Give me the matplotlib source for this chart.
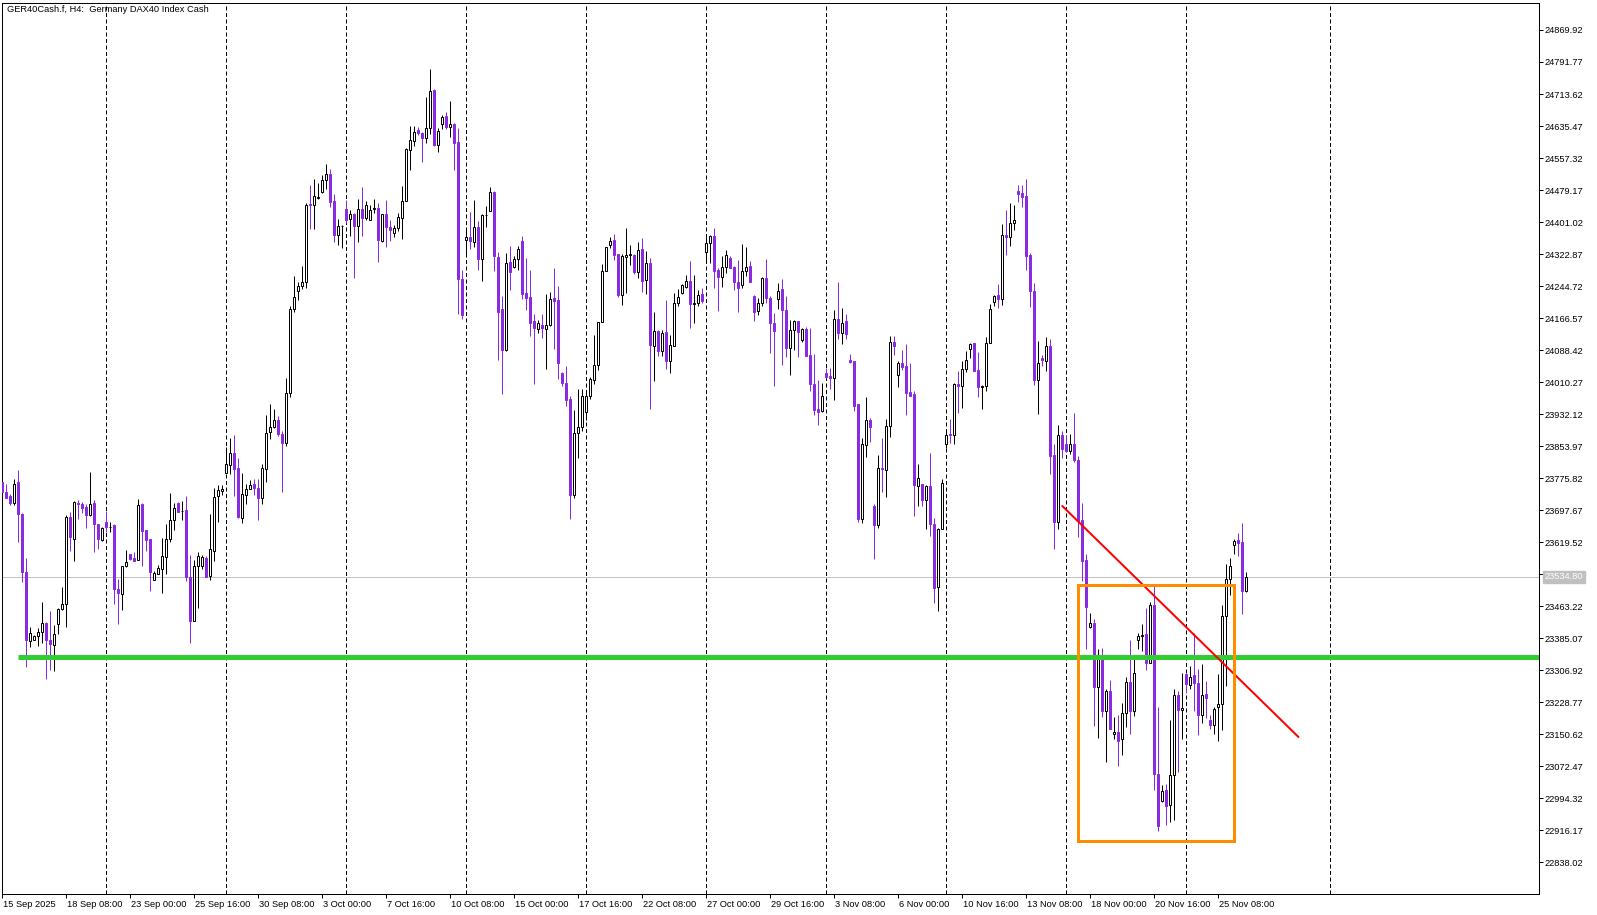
import matplotlib
matplotlib.use("Agg")
import matplotlib.pyplot as plt
from matplotlib.patches import Rectangle
import matplotlib.transforms as mtransforms

# ---------------- data (H4 bars, GER40Cash.f) ----------------
opens = [
    23766.9, 23742.5, 23731.1, 23714.8, 23765.3, 23688.8, 23546.3, 23378.6, 23381.1, 23390.9,
    23400.6, 23421.0, 23381.9, 23368.9, 23420.2, 23456.8, 23469.0, 23681.5, 23627.7, 23714.0,
    23711.6, 23704.2, 23685.5, 23714.0, 23662.7, 23625.3, 23669.2, 23656.2, 23660.3, 23506.4,
    23493.4, 23560.2, 23589.5, 23579.7, 23574.8, 23711.6, 23648.1, 23626.1, 23527.6, 23542.3,
    23554.5, 23583.8, 23626.1, 23673.3, 23714.0, 23694.5, 23696.9, 23535.7, 23426.7, 23561.8,
    23561.8, 23580.5, 23536.6, 23598.4, 23731.9, 23744.9, 23788.1, 23808.4, 23836.1, 23799.5,
    23679.0, 23735.2, 23749.8, 23760.4, 23752.3, 23727.9, 23798.7, 23889.1, 23900.5, 23916.7,
    23882.5, 23861.4, 23984.3, 24188.6, 24233.4, 24244.8, 24254.5, 24444.2, 24443.4, 24460.5,
    24474.3, 24504.4, 24519.1, 24451.5, 24369.3, 24391.3, 24432.0, 24407.6, 24419.8, 24391.3,
    24433.6, 24410.8, 24406.8, 24433.6, 24436.1, 24354.7, 24419.8, 24389.7, 24375.0, 24387.2,
    24410.8, 24452.3, 24577.7, 24599.7, 24624.9, 24617.6, 24606.2, 24631.4, 24722.6, 24589.1,
    24640.4, 24659.1, 24633.1, 24639.6, 24595.6, 24261.1, 24357.1, 24365.3, 24352.2, 24389.7,
    24310.7, 24417.3, 24428.7, 24473.5, 24316.4, 24187.8, 24088.5, 24302.6, 24291.2, 24311.5,
    24353.9, 24226.9, 24217.1, 24158.5, 24140.6, 24150.4, 24140.6, 24149.5, 24214.7, 24209.8,
    24031.5, 24007.1, 23968.0, 23734.4, 23886.6, 23901.3, 23937.1, 23976.2, 24015.2, 24052.7,
    24157.7, 24282.2, 24344.9, 24356.3, 24322.1, 24223.6, 24315.6, 24321.3, 24321.3, 24279.0,
    24334.3, 24259.4, 24301.8, 24099.1, 24135.7, 24086.1, 24131.6, 24061.6, 24099.1, 24203.3,
    24226.9, 24242.3, 24256.2, 24201.6, 24203.3, 24224.4, 24328.6, 24350.6, 24366.1, 24283.0,
    24266.8, 24292.0, 24312.4, 24292.0, 24255.4, 24247.2, 24282.2, 24292.8, 24219.6, 24183.7,
    24204.1, 24265.1, 24216.3, 24155.2, 24213.9, 24236.6, 24185.4, 24093.4, 24138.2, 24158.5,
    24113.7, 24139.0, 24075.5, 24004.7, 23943.6, 23939.5, 24031.5, 24024.2, 24020.9, 24163.4,
    24130.0, 24158.5, 24063.3, 24060.8, 23955.8, 23675.0, 23857.3, 23916.7, 23706.7, 23661.2,
    23800.3, 23796.3, 23903.7, 24108.9, 24028.3, 24055.9, 24048.6, 23985.1, 23980.2, 23757.2,
    23760.5, 23723.0, 23756.4, 23664.4, 23509.7, 23652.2, 23859.8, 23882.6, 23881.8, 24006.3,
    24000.6, 24042.1, 24091.0, 24104.8, 24038.9, 23999.0, 24000.6, 24105.6, 24206.5, 24222.0,
    24213.9, 24370.2, 24364.5, 24399.5, 24476.0, 24471.1, 24463.8, 24319.7, 24233.4, 24015.3,
    24068.2, 24061.6, 24097.5, 23831.3, 23668.5, 23880.1, 23859.8, 23841.9, 23859.8, 23819.8,
    23672.6, 23574.9, 23412.9, 23422.7, 23266.4, 23342.9, 23207.8, 23255.0, 23150.8, 23157.3,
    23138.6, 23202.9, 23278.6, 23207.8, 23380.4, 23390.9, 23394.2, 23324.2, 23466.6, 23053.9,
    22987.2, 23015.7, 22977.4, 23051.5, 23245.2, 23209.4, 23296.5, 23271.3, 23294.1, 23276.2,
    23196.4, 23247.7, 23186.6, 23174.4, 23216.7, 23224.9, 23439.0, 23528.5, 23611.5, 23623.7,
    23618.9, 23500.0,
]
highs = [
    23772.6, 23760.4, 23737.6, 23772.6, 23794.6, 23689.6, 23579.7, 23412.8, 23392.5, 23410.4,
    23472.3, 23424.2, 23451.9, 23416.9, 23459.2, 23511.3, 23685.5, 23693.7, 23718.9, 23723.0,
    23716.5, 23713.2, 23789.7, 23723.0, 23662.7, 23657.0, 23694.5, 23669.2, 23664.4, 23528.4,
    23561.8, 23600.9, 23589.5, 23595.2, 23725.4, 23715.6, 23648.9, 23627.7, 23548.8, 23562.6,
    23629.4, 23663.5, 23738.4, 23714.0, 23716.5, 23718.9, 23731.1, 23587.0, 23575.6, 23595.2,
    23587.0, 23585.4, 23687.1, 23752.3, 23758.8, 23758.8, 23851.6, 23875.0, 23880.0, 23823.9,
    23787.3, 23762.0, 23771.0, 23774.2, 23774.2, 23809.3, 23928.9, 23955.8, 23945.2, 23926.5,
    23889.9, 24019.3, 24195.1, 24268.4, 24255.4, 24292.8, 24448.3, 24490.6, 24505.3, 24497.1,
    24515.0, 24541.9, 24529.7, 24468.6, 24407.6, 24392.9, 24454.8, 24430.4, 24422.2, 24458.0,
    24485.7, 24452.3, 24442.6, 24458.0, 24448.3, 24419.8, 24454.0, 24405.1, 24392.9, 24422.2,
    24488.2, 24581.8, 24634.7, 24634.7, 24632.2, 24620.0, 24705.5, 24773.9, 24725.0, 24631.4,
    24661.5, 24668.9, 24695.7, 24642.0, 24629.8, 24283.0, 24383.2, 24424.7, 24454.0, 24402.7,
    24419.8, 24439.3, 24485.7, 24476.0, 24327.0, 24219.5, 24324.6, 24341.6, 24318.9, 24341.6,
    24366.1, 24312.3, 24283.0, 24175.6, 24162.6, 24175.6, 24224.4, 24230.9, 24287.9, 24244.0,
    24035.6, 24048.6, 23976.2, 23942.0, 23992.4, 23992.4, 23988.4, 24021.8, 24124.3, 24157.7,
    24299.3, 24340.8, 24365.3, 24371.0, 24323.7, 24322.9, 24387.2, 24344.1, 24322.9, 24351.4,
    24361.2, 24331.1, 24312.4, 24180.5, 24136.5, 24136.5, 24209.8, 24125.1, 24228.5, 24236.6,
    24249.7, 24272.5, 24306.7, 24270.8, 24235.8, 24240.7, 24367.7, 24369.3, 24385.6, 24287.9,
    24317.2, 24331.9, 24318.9, 24294.4, 24307.5, 24346.5, 24339.2, 24305.0, 24222.8, 24216.3,
    24267.0, 24310.0, 24219.6, 24179.7, 24252.9, 24261.1, 24219.6, 24162.6, 24162.6, 24158.5,
    24141.4, 24143.9, 24141.4, 24079.5, 24014.4, 24007.1, 24043.7, 24043.7, 24185.4, 24253.7,
    24190.3, 24175.6, 24079.5, 24061.6, 23955.8, 23872.8, 23974.5, 23923.3, 23711.6, 23831.3,
    23873.6, 23919.2, 24121.9, 24121.9, 24062.5, 24087.7, 24102.3, 24055.9, 23988.4, 23809.3,
    23760.5, 23758.8, 23837.8, 23679.1, 23654.6, 23772.7, 23893.2, 23919.2, 24008.7, 24036.4,
    24060.8, 24086.1, 24104.8, 24104.8, 24083.6, 24002.2, 24121.1, 24200.0, 24223.6, 24250.5,
    24396.2, 24431.2, 24446.7, 24441.8, 24491.4, 24491.4, 24505.3, 24324.6, 24251.3, 24109.7,
    24077.1, 24121.1, 24114.6, 23859.8, 23906.2, 23891.5, 23881.8, 23884.2, 23935.5, 23830.0,
    23715.7, 23589.5, 23447.1, 23432.4, 23357.6, 23360.0, 23261.5, 23281.9, 23193.9, 23198.8,
    23225.7, 23290.8, 23379.5, 23337.2, 23396.6, 23419.4, 23457.7, 23474.0, 23513.8, 23217.6,
    23027.1, 23029.5, 23186.6, 23261.5, 23257.4, 23299.0, 23300.6, 23316.9, 23398.3, 23310.3,
    23320.9, 23279.4, 23198.8, 23216.7, 23298.1, 23466.6, 23565.9, 23581.4, 23626.2, 23640.8,
    23665.3, 23547.2,
]
lows = [
    23740.1, 23726.2, 23709.9, 23709.9, 23619.6, 23521.9, 23314.3, 23364.0, 23380.3, 23365.6,
    23373.8, 23285.8, 23308.6, 23304.6, 23395.7, 23453.5, 23412.0, 23597.6, 23573.2, 23675.8,
    23691.2, 23653.8, 23683.9, 23595.2, 23601.7, 23621.2, 23644.8, 23644.0, 23468.2, 23419.3,
    23453.5, 23557.7, 23576.4, 23572.4, 23574.8, 23561.0, 23598.4, 23499.9, 23526.8, 23541.4,
    23495.0, 23540.6, 23619.6, 23648.1, 23692.0, 23673.3, 23524.3, 23372.9, 23425.9, 23458.4,
    23553.7, 23533.3, 23526.8, 23574.0, 23668.4, 23735.2, 23787.3, 23785.6, 23732.7, 23678.2,
    23666.0, 23711.6, 23749.0, 23734.4, 23673.3, 23711.6, 23766.1, 23872.0, 23898.0, 23878.5,
    23741.7, 23854.1, 23974.5, 24182.1, 24211.4, 24238.3, 24239.1, 24383.2, 24384.0, 24456.4,
    24471.9, 24482.5, 24437.7, 24352.2, 24344.1, 24338.4, 24399.4, 24366.9, 24264.3, 24352.2,
    24366.1, 24406.0, 24405.1, 24423.9, 24303.4, 24352.2, 24340.0, 24354.7, 24364.4, 24379.1,
    24359.6, 24452.3, 24528.1, 24586.7, 24613.5, 24547.6, 24594.0, 24616.0, 24586.7, 24572.0,
    24627.4, 24627.4, 24608.6, 24528.1, 24175.6, 24163.4, 24318.0, 24334.3, 24340.0, 24283.9,
    24257.0, 24388.9, 24427.9, 24281.4, 24064.1, 23981.0, 24086.0, 24235.0, 24287.9, 24283.9,
    24213.0, 24186.2, 24122.7, 24005.5, 24130.0, 24117.8, 24042.1, 24147.1, 24090.9, 24017.7,
    24000.6, 23951.7, 23676.6, 23727.1, 23825.6, 23890.0, 23917.6, 23969.7, 24004.7, 24039.7,
    24156.9, 24281.4, 24337.6, 24308.3, 24217.9, 24198.4, 24226.9, 24296.1, 24274.9, 24264.3,
    24230.1, 24225.3, 23944.4, 24012.8, 24073.8, 24074.7, 24042.1, 24032.3, 24099.1, 24195.1,
    24224.4, 24240.7, 24142.2, 24154.4, 24196.8, 24203.3, 24300.1, 24301.8, 24240.7, 24183.7,
    24242.3, 24277.3, 24287.9, 24235.0, 24181.3, 24239.1, 24269.2, 24253.7, 24158.5, 24174.0,
    24195.9, 24204.1, 24081.2, 24000.6, 24188.6, 24051.9, 24071.4, 24027.5, 24088.5, 24071.4,
    24108.0, 24073.8, 23988.4, 23929.8, 23905.4, 23936.3, 24019.3, 23993.3, 23966.4, 24115.4,
    24102.3, 24114.5, 24055.9, 23938.7, 23668.5, 23666.0, 23827.2, 23863.8, 23578.1, 23653.8,
    23740.9, 23729.5, 23876.0, 24075.5, 23998.1, 24038.8, 23929.8, 23975.4, 23683.1, 23707.5,
    23707.5, 23650.6, 23634.3, 23470.7, 23451.1, 23652.2, 23849.2, 23860.6, 23859.8, 23933.9,
    23946.9, 24034.8, 24069.8, 24037.2, 23972.9, 23945.2, 23988.4, 24105.6, 24196.8, 24191.1,
    24198.4, 24320.5, 24342.5, 24381.6, 24449.1, 24438.5, 24283.9, 24193.5, 24003.0, 23931.4,
    24049.4, 24037.2, 23786.5, 23603.4, 23652.2, 23824.8, 23841.9, 23835.4, 23815.8, 23631.7,
    23524.4, 23357.6, 23410.5, 23170.3, 23141.8, 23192.3, 23082.4, 23164.6, 23139.4, 23072.7,
    23099.5, 23167.9, 23151.6, 23194.8, 23357.6, 23353.5, 23307.1, 23323.4, 23014.1, 22915.6,
    22984.7, 22929.4, 22935.9, 22942.4, 23058.8, 23138.6, 23251.7, 23259.9, 23207.0, 23148.4,
    23176.9, 23189.1, 23162.2, 23151.6, 23133.7, 23159.8, 23269.6, 23490.2, 23589.5, 23585.5,
    23443.8, 23497.6,
]
closes = [
    23742.5, 23727.8, 23714.8, 23762.0, 23688.8, 23546.3, 23381.1, 23398.2, 23390.9, 23400.6,
    23421.0, 23380.3, 23370.5, 23395.7, 23456.8, 23469.0, 23681.5, 23631.8, 23718.1, 23712.4,
    23701.8, 23685.5, 23713.2, 23663.5, 23626.9, 23654.6, 23655.4, 23657.0, 23504.8, 23495.0,
    23561.8, 23571.6, 23578.1, 23574.0, 23710.8, 23646.4, 23624.5, 23546.3, 23543.1, 23555.3,
    23586.2, 23626.1, 23672.5, 23703.4, 23692.8, 23696.1, 23534.1, 23426.7, 23561.8, 23584.6,
    23583.0, 23535.7, 23601.7, 23730.3, 23745.8, 23749.8, 23809.2, 23837.7, 23798.7, 23680.6,
    23736.0, 23749.8, 23759.6, 23751.5, 23727.8, 23801.1, 23886.6, 23901.3, 23918.4, 23882.5,
    23861.4, 23984.3, 24189.4, 24218.7, 24245.6, 24255.4, 24443.4, 24442.6, 24463.7, 24462.1,
    24504.4, 24519.1, 24449.9, 24369.3, 24392.1, 24392.1, 24406.0, 24419.8, 24391.3, 24433.6,
    24410.8, 24443.4, 24431.2, 24435.3, 24357.1, 24419.8, 24388.9, 24381.5, 24387.2, 24414.1,
    24453.2, 24578.5, 24600.5, 24620.0, 24618.4, 24605.4, 24631.4, 24721.8, 24588.3, 24622.5,
    24658.3, 24633.1, 24639.6, 24594.0, 24261.9, 24174.0, 24365.3, 24354.7, 24389.7, 24310.7,
    24417.3, 24419.0, 24475.1, 24318.0, 24182.1, 24088.5, 24301.8, 24279.0, 24310.7, 24335.9,
    24224.4, 24215.5, 24154.4, 24142.2, 24155.2, 24142.2, 24150.4, 24213.8, 24208.1, 24056.7,
    24008.7, 23966.4, 23734.4, 23886.6, 23901.3, 23975.4, 23977.0, 24016.9, 24052.7, 24157.7,
    24282.2, 24339.2, 24355.5, 24320.5, 24222.8, 24317.2, 24321.3, 24323.7, 24279.0, 24333.5,
    24257.0, 24301.8, 24100.7, 24135.7, 24086.1, 24129.2, 24061.6, 24101.5, 24204.1, 24218.7,
    24246.4, 24256.2, 24200.0, 24204.1, 24223.6, 24207.3, 24350.6, 24367.7, 24281.4, 24266.8,
    24292.0, 24321.3, 24289.6, 24254.6, 24239.9, 24282.2, 24290.4, 24254.6, 24181.3, 24204.1,
    24265.1, 24216.3, 24154.4, 24134.9, 24233.4, 24187.0, 24093.4, 24138.2, 24158.5, 24132.5,
    24139.0, 24073.8, 24005.5, 23942.0, 23937.1, 23977.0, 24021.8, 24020.9, 24163.4, 24130.0,
    24155.2, 24126.8, 24058.4, 23951.7, 23675.0, 23859.8, 23916.7, 23900.5, 23661.2, 23799.5,
    23797.9, 23903.7, 24108.9, 24098.3, 24057.6, 24047.0, 23983.5, 23976.2, 23758.8, 23776.7,
    23723.0, 23756.4, 23664.4, 23508.1, 23652.2, 23764.5, 23881.8, 23880.9, 24006.3, 24000.6,
    24042.1, 24064.1, 24104.0, 24037.2, 23997.3, 24001.4, 24106.4, 24189.4, 24221.2, 24212.2,
    24370.2, 24364.5, 24399.5, 24406.8, 24469.5, 24462.1, 24318.1, 24232.6, 24015.3, 24057.6,
    24063.3, 24097.5, 23829.7, 23668.5, 23881.8, 23847.6, 23841.9, 23859.8, 23820.7, 23670.8,
    23573.3, 23460.9, 23422.7, 23265.6, 23342.9, 23207.0, 23255.0, 23164.6, 23157.3, 23133.7,
    23202.9, 23278.6, 23207.0, 23300.6, 23390.9, 23393.4, 23324.2, 23466.6, 23053.9, 22926.1,
    23011.6, 22976.6, 23051.5, 23245.2, 23211.0, 23215.1, 23273.7, 23290.8, 23274.5, 23197.2,
    23246.9, 23238.7, 23173.6, 23212.7, 23224.9, 23438.1, 23528.5, 23561.1, 23622.9, 23618.0,
    23500.0, 23534.8,
]

# time axis labels (one every 16 bars)
time_label_bars = [0, 16, 32, 48, 64, 80, 96, 112, 128, 144, 160, 176, 192, 208, 224, 240, 256, 272, 288, 304]
time_labels = ["15 Sep 2025", "18 Sep 08:00", "23 Sep 00:00", "25 Sep 16:00", "30 Sep 08:00",
               "3 Oct 00:00", "7 Oct 16:00", "10 Oct 08:00", "15 Oct 00:00", "17 Oct 16:00",
               "22 Oct 08:00", "27 Oct 00:00", "29 Oct 16:00", "3 Nov 08:00", "6 Nov 00:00",
               "10 Nov 16:00", "13 Nov 08:00", "18 Nov 00:00", "20 Nov 16:00", "25 Nov 08:00"]
grid_bars = [26, 56, 86, 116, 146, 176, 206, 236, 266, 296, 332]
price_ticks = [22838.02, 22916.17, 22994.32, 23072.47, 23150.62, 23228.77, 23306.92, 23385.07,
               23463.22, 23541.37, 23619.52, 23697.67, 23775.82, 23853.97, 23932.12, 24010.27,
               24088.42, 24166.57, 24244.72, 24322.87, 24401.02, 24479.17, 24557.32, 24635.47,
               24713.62, 24791.77, 24869.92]
current_price = 23534.80
support_level = 23340.0
support_start_bar = 4
trend_bars = [265.05, 324.0]
trend_prices = [23707.4, 23144.3]
box_bars = [269.0, 308.0]
box_prices = [22889.4, 23515.5]
title = "GER40Cash.f, H4:  Germany DAX40 Index Cash"

# ---------------- figure ----------------
W, H, DPI = 1597, 915, 100
fig = plt.figure(figsize=(W / DPI, H / DPI), dpi=DPI)
fig.patch.set_facecolor("white")
L, R, T, B = 2, 1539, 3, 894
ax = fig.add_axes([L / W, 1 - B / H, (R - L) / W, (B - T) / H])
ax.set_facecolor("white")
ax.set_xlim(-0.075, 384.175)
ax.set_ylim(22760.6, 24935.8)

FONT = "Liberation Sans"
FS = 6.7
BULL = "black"
BEAR = "#8A2BE2"
px = 0.72  # one pixel in points

# vertical grid
for g in grid_bars:
    ax.axvline(g, color="black", lw=px, ls=(0, (4, 2.5)), zorder=1)

# current price line
ax.axhline(current_price, color="#C0C0C0", lw=px, zorder=1.5)

# candles
n = len(opens)
for i in range(n):
    o, h, l, c = opens[i], highs[i], lows[i], closes[i]
    bull = c >= o
    col = BULL if bull else BEAR
    ax.vlines(i, l, h, color=col, lw=px, zorder=2)
    lo, hi = min(o, c), max(o, c)
    ax.bar(i, max(hi - lo, 0.01), bottom=lo, width=0.5,
           facecolor="white" if bull else BEAR, edgecolor=col, linewidth=px, zorder=3)

# support line
ax.plot([support_start_bar, 384.175], [support_level, support_level], color="#32CD32",
        lw=5 * px, solid_capstyle="butt", zorder=4)

# trend line
ax.plot(trend_bars, trend_prices, color="#FF0000", lw=2 * px, zorder=5)

# rectangle
rect = Rectangle((box_bars[0], box_prices[0]), box_bars[1] - box_bars[0], box_prices[1] - box_prices[0],
                 fill=False, edgecolor="#FF8C00", lw=3 * px, zorder=5)
ax.add_patch(rect)

# axes styling
for s in ax.spines.values():
    s.set_color("black")
    s.set_linewidth(px)
ax.yaxis.tick_right()
ax.set_yticks(price_ticks)
ax.set_yticklabels([f"{v:.2f}" for v in price_ticks], fontfamily=FONT, fontsize=FS)
ax.tick_params(axis="y", direction="out", length=3, width=px, pad=0.8, colors="black")

ax.set_xticks(time_label_bars)
ax.set_xticklabels(time_labels, fontfamily=FONT, fontsize=FS, ha="left")
ax.tick_params(axis="x", direction="out", length=3, width=px, pad=1.5, colors="black")
offset = mtransforms.ScaledTranslation(0.3 / DPI, 0, fig.dpi_scale_trans)
for lab in ax.get_xticklabels():
    lab.set_transform(lab.get_transform() + offset)

# current price label box
ax.annotate(f"{current_price:.2f}", xy=(1.0, current_price), xycoords=("axes fraction", "data"),
            xytext=(4, 0), textcoords="offset points", ha="left", va="center",
            fontfamily=FONT, fontsize=FS, color="white",
            bbox=dict(boxstyle="square,pad=0.15", facecolor="#C0C0C0", edgecolor="#C0C0C0"),
            annotation_clip=False, zorder=10)

# title
ax.text(5 / (R - L), 1 - 7 / (B - T), title, transform=ax.transAxes, ha="left", va="center",
        fontfamily=FONT, fontsize=FS, color="black", zorder=10)

fig.savefig("out.png", dpi=DPI)
